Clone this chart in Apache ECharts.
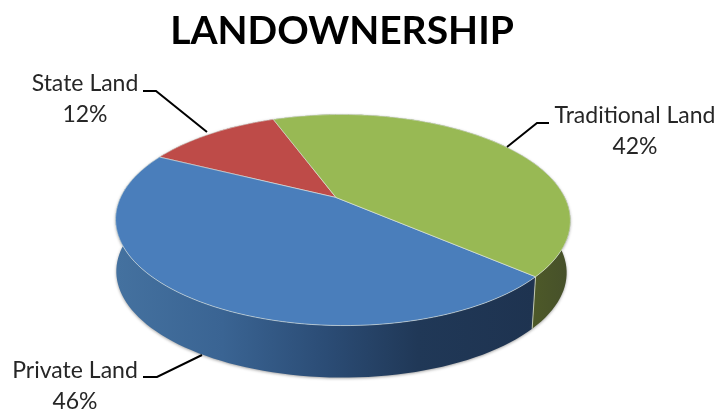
<!DOCTYPE html>
<html>
<head>
<meta charset="utf-8">
<style>html,body{margin:0;padding:0;background:#fff}#chart{width:721px;height:414px}</style>
<script src="https://cdn.jsdelivr.net/npm/echarts@6/dist/echarts.min.js"></script>
</head>
<body>
<div id="chart"></div>
<script>
// Land ownership shares
const categories = ['State Land', 'Private Land', 'Traditional Land'];
const shares = [12, 46, 42];
const chartTitle = 'LANDOWNERSHIP';

// Disc appearance
const topColors = ['#BE4B48', '#4A7EBB', '#98B954'];
const wallColors = [
  '#7a2f2d',
  [[0, '#44719f'], [0.25, '#3a6493'], [0.5, '#2b4c75'], [0.72, '#203857'], [1, '#1e3350']],
  [[0, '#4e5a28'], [1, '#46502a']]
];
const disc = { x: 336, y: 197.5, a: 222, b: 100.7, p: 0.2133, q: -0.03, depth: 52, base: 0.99, start: 110 };

// Perspective projection of a point on the disc rim (angle in degrees)
function rim(deg, lower) {
  const t = deg * Math.PI / 180;
  const c = Math.cos(t), s = Math.sin(t);
  const w = 1 + disc.p * s + disc.q * c;
  const px = disc.a * c / w, py = disc.b * s / w;
  if (lower) return [disc.x + 5.5 + (px - 7) * disc.base, disc.y - py + disc.depth];
  return [disc.x + px, disc.y - py];
}

const total = shares.reduce((s, v) => s + v, 0);
function sliceRange(i) {
  let from = disc.start;
  for (let k = 0; k < i; k++) from += shares[k] / total * 360;
  return [from, from + shares[i] / total * 360];
}
function arc(from, to, lower) {
  const n = Math.max(2, Math.ceil((to - from) / 2));
  const out = [];
  for (let k = 0; k <= n; k++) out.push(rim(from + (to - from) * k / n, lower));
  return out;
}

function renderWall(params) {
  const i = params.dataIndex;
  const [from, to] = sliceRange(i);
  const pts = arc(from, to, false).concat(arc(from, to, true).reverse());
  const col = wallColors[i];
  const fill = Array.isArray(col)
    ? new echarts.graphic.LinearGradient(
        i === 1 ? 118 : 530, 0, i === 1 ? 535 : 568, 0,
        col.map(([offset, color]) => ({ offset, color })), true)
    : col;
  return {
    type: 'polygon',
    shape: { points: pts },
    style: { fill, shadowBlur: 3, shadowColor: 'rgba(90,90,90,0.55)', shadowOffsetY: 1 }
  };
}

function renderTop(params) {
  const i = params.dataIndex;
  const [from, to] = sliceRange(i);
  const pts = [[disc.x, disc.y]].concat(arc(from, to, false));
  return {
    type: 'polygon',
    shape: { points: pts },
    style: { fill: topColors[i], stroke: 'rgba(225,232,225,0.75)', lineWidth: 0.8, lineJoin: 'round' }
  };
}

// Light seam where the private and traditional walls meet
function renderSeam(params) {
  const end = sliceRange(1)[1];
  const a = rim(end, false), b = rim(end, true);
  return {
    type: 'line',
    shape: { x1: a[0], y1: a[1], x2: b[0], y2: b[1] },
    style: { stroke: 'rgba(215,222,200,0.8)', lineWidth: 1 }
  };
}

const labelFont = { fontFamily: 'Lato', fontSize: 23, fill: '#262626', textAlign: 'center', textVerticalAlign: 'middle' };
const labelSpots = [
  { x: 85, y1: 84, y2: 115, line: [[143, 91], [156, 91], [207, 132]] },
  { x: 75, y1: 371, y2: 402, line: [[143, 377], [157, 377], [202, 355]] },
  { x: 635, y1: 116, y2: 147, line: [[549, 123], [537, 123], [507, 147]] }
];
const labelElements = [];
categories.forEach((name, i) => {
  const spot = labelSpots[i];
  labelElements.push(
    { type: 'polyline', z: 20, shape: { points: spot.line }, style: { stroke: '#000', lineWidth: 2, fill: null } },
    { type: 'text', z: 20, style: Object.assign({ x: spot.x, y: spot.y1, text: name }, labelFont) },
    { type: 'text', z: 20, style: Object.assign({ x: spot.x, y: spot.y2, text: shares[i] + '%' }, labelFont) }
  );
});

const chart = echarts.init(document.getElementById('chart'), null, { renderer: 'canvas' });
chart.setOption({
  animation: false,
  backgroundColor: '#ffffff',
  title: {
    text: chartTitle,
    left: 337,
    top: 7,
    textAlign: 'center',
    textStyle: { fontFamily: 'Lato', fontWeight: 'bold', fontSize: 39, color: '#000' }
  },
  graphic: { elements: labelElements },
  series: [
    { type: 'custom', coordinateSystem: 'none', z: 1, silent: true, data: shares, renderItem: renderWall },
    { type: 'custom', coordinateSystem: 'none', z: 2, silent: true, data: [1], renderItem: renderSeam },
    { type: 'custom', coordinateSystem: 'none', z: 3, silent: true, data: shares, renderItem: renderTop }
  ]
});
</script>
</body>
</html>
